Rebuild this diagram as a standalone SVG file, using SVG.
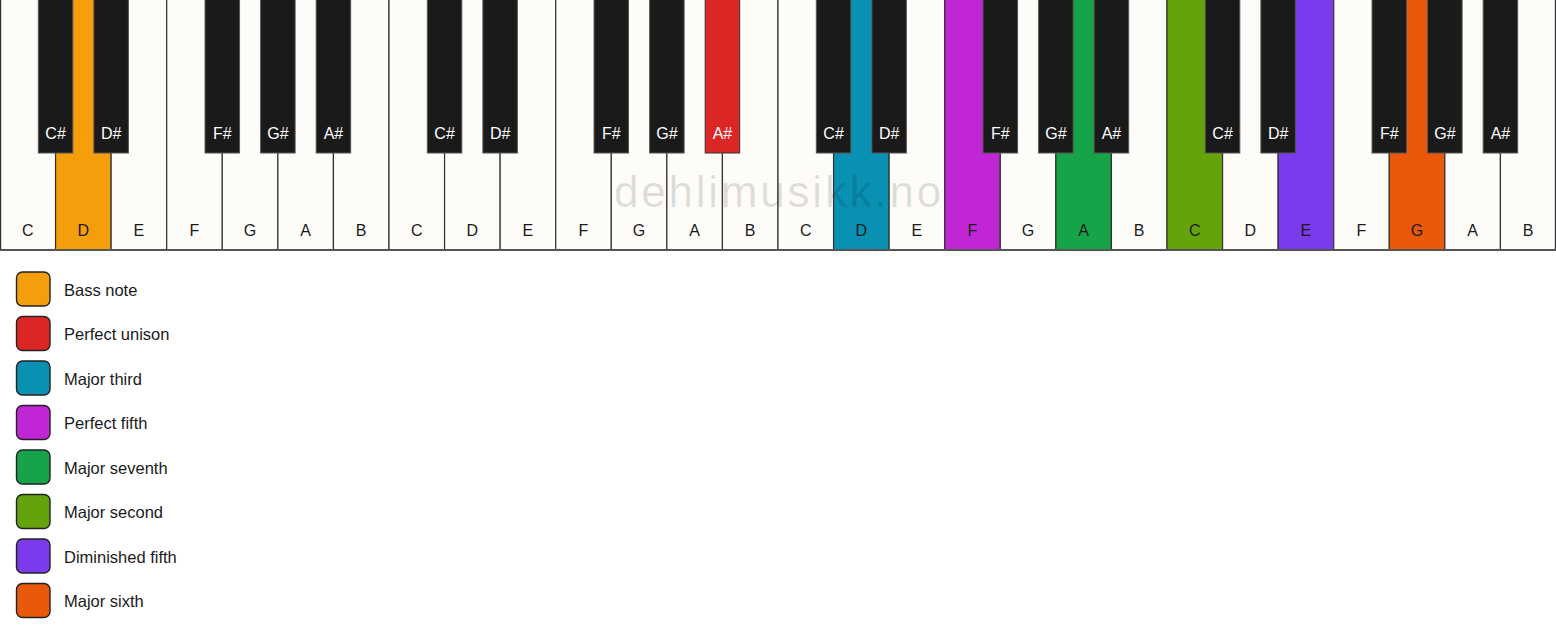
<svg xmlns="http://www.w3.org/2000/svg" width="1556" height="639" viewBox="0 0 1556 639">
<style>
.w{fill:#fdfcf9;stroke:#333;stroke-width:1.2}
.b{fill:#1a1a1a;stroke:#555;stroke-width:1}
.wl{font-family:"Liberation Sans",Arial,sans-serif;font-size:16px;fill:#1a1a1a;text-anchor:middle}
.bl{font-family:"Liberation Sans",Arial,sans-serif;font-size:16px;fill:#ffffff;text-anchor:middle}
.lg{stroke:#222;stroke-width:1.4}
.lt{font-family:"Liberation Sans",Arial,sans-serif;font-size:16.5px;fill:#1a1a1a}
.wm{font-family:"Liberation Sans",Arial,sans-serif;font-size:44px;fill:#000;fill-opacity:0.12;text-anchor:middle;letter-spacing:2.8px}
</style>
<rect x="0" y="0" width="1556" height="639" fill="#ffffff"/>
<g id="white-keys">
<g id="w0"><rect class="w" x="0.6" y="-2" width="54.97" height="252"/><text class="wl" x="27.79" y="236">C</text></g>
<g id="w1"><rect class="w" x="55.57" y="-2" width="55.57" height="252" style="fill:#f59e0b"/><text class="wl" x="83.36" y="236">D</text></g>
<g id="w2"><rect class="w" x="111.14" y="-2" width="55.57" height="252"/><text class="wl" x="138.93" y="236">E</text></g>
<g id="w3"><rect class="w" x="166.71" y="-2" width="55.57" height="252"/><text class="wl" x="194.5" y="236">F</text></g>
<g id="w4"><rect class="w" x="222.29" y="-2" width="55.57" height="252"/><text class="wl" x="250.07" y="236">G</text></g>
<g id="w5"><rect class="w" x="277.86" y="-2" width="55.57" height="252"/><text class="wl" x="305.64" y="236">A</text></g>
<g id="w6"><rect class="w" x="333.43" y="-2" width="55.57" height="252"/><text class="wl" x="361.21" y="236">B</text></g>
<g id="w7"><rect class="w" x="389" y="-2" width="55.57" height="252"/><text class="wl" x="416.79" y="236">C</text></g>
<g id="w8"><rect class="w" x="444.57" y="-2" width="55.57" height="252"/><text class="wl" x="472.36" y="236">D</text></g>
<g id="w9"><rect class="w" x="500.14" y="-2" width="55.57" height="252"/><text class="wl" x="527.93" y="236">E</text></g>
<g id="w10"><rect class="w" x="555.71" y="-2" width="55.57" height="252"/><text class="wl" x="583.5" y="236">F</text></g>
<g id="w11"><rect class="w" x="611.29" y="-2" width="55.57" height="252"/><text class="wl" x="639.07" y="236">G</text></g>
<g id="w12"><rect class="w" x="666.86" y="-2" width="55.57" height="252"/><text class="wl" x="694.64" y="236">A</text></g>
<g id="w13"><rect class="w" x="722.43" y="-2" width="55.57" height="252"/><text class="wl" x="750.21" y="236">B</text></g>
<g id="w14"><rect class="w" x="778" y="-2" width="55.57" height="252"/><text class="wl" x="805.79" y="236">C</text></g>
<g id="w15"><rect class="w" x="833.57" y="-2" width="55.57" height="252" style="fill:#0891b2"/><text class="wl" x="861.36" y="236">D</text></g>
<g id="w16"><rect class="w" x="889.14" y="-2" width="55.57" height="252"/><text class="wl" x="916.93" y="236">E</text></g>
<g id="w17"><rect class="w" x="944.71" y="-2" width="55.57" height="252" style="fill:#c026d3"/><text class="wl" x="972.5" y="236">F</text></g>
<g id="w18"><rect class="w" x="1000.29" y="-2" width="55.57" height="252"/><text class="wl" x="1028.07" y="236">G</text></g>
<g id="w19"><rect class="w" x="1055.86" y="-2" width="55.57" height="252" style="fill:#16a34a"/><text class="wl" x="1083.64" y="236">A</text></g>
<g id="w20"><rect class="w" x="1111.43" y="-2" width="55.57" height="252"/><text class="wl" x="1139.21" y="236">B</text></g>
<g id="w21"><rect class="w" x="1167" y="-2" width="55.57" height="252" style="fill:#65a30d"/><text class="wl" x="1194.79" y="236">C</text></g>
<g id="w22"><rect class="w" x="1222.57" y="-2" width="55.57" height="252"/><text class="wl" x="1250.36" y="236">D</text></g>
<g id="w23"><rect class="w" x="1278.14" y="-2" width="55.57" height="252" style="fill:#7c3aed"/><text class="wl" x="1305.93" y="236">E</text></g>
<g id="w24"><rect class="w" x="1333.71" y="-2" width="55.57" height="252"/><text class="wl" x="1361.5" y="236">F</text></g>
<g id="w25"><rect class="w" x="1389.29" y="-2" width="55.57" height="252" style="fill:#ea580c"/><text class="wl" x="1417.07" y="236">G</text></g>
<g id="w26"><rect class="w" x="1444.86" y="-2" width="55.57" height="252"/><text class="wl" x="1472.64" y="236">A</text></g>
<g id="w27"><rect class="w" x="1500.43" y="-2" width="54.97" height="252"/><text class="wl" x="1528.21" y="236">B</text></g>
</g>
<line x1="0" y1="250" x2="1556" y2="250" stroke="#555" stroke-width="2"/>
<g id="black-keys">
<g id="b0"><rect class="b" x="38.32" y="-1" width="34.5" height="154"/><text class="bl" x="55.57" y="138.5">C#</text></g>
<g id="b1"><rect class="b" x="93.89" y="-1" width="34.5" height="154"/><text class="bl" x="111.14" y="138.5">D#</text></g>
<g id="b2"><rect class="b" x="205.04" y="-1" width="34.5" height="154"/><text class="bl" x="222.29" y="138.5">F#</text></g>
<g id="b3"><rect class="b" x="260.61" y="-1" width="34.5" height="154"/><text class="bl" x="277.86" y="138.5">G#</text></g>
<g id="b4"><rect class="b" x="316.18" y="-1" width="34.5" height="154"/><text class="bl" x="333.43" y="138.5">A#</text></g>
<g id="b5"><rect class="b" x="427.32" y="-1" width="34.5" height="154"/><text class="bl" x="444.57" y="138.5">C#</text></g>
<g id="b6"><rect class="b" x="482.89" y="-1" width="34.5" height="154"/><text class="bl" x="500.14" y="138.5">D#</text></g>
<g id="b7"><rect class="b" x="594.04" y="-1" width="34.5" height="154"/><text class="bl" x="611.29" y="138.5">F#</text></g>
<g id="b8"><rect class="b" x="649.61" y="-1" width="34.5" height="154"/><text class="bl" x="666.86" y="138.5">G#</text></g>
<g id="b9"><rect class="b" x="705.18" y="-1" width="34.5" height="154" style="fill:#dc2626;stroke:#333"/><text class="bl" x="722.43" y="138.5">A#</text></g>
<g id="b10"><rect class="b" x="816.32" y="-1" width="34.5" height="154"/><text class="bl" x="833.57" y="138.5">C#</text></g>
<g id="b11"><rect class="b" x="871.89" y="-1" width="34.5" height="154"/><text class="bl" x="889.14" y="138.5">D#</text></g>
<g id="b12"><rect class="b" x="983.04" y="-1" width="34.5" height="154"/><text class="bl" x="1000.29" y="138.5">F#</text></g>
<g id="b13"><rect class="b" x="1038.61" y="-1" width="34.5" height="154"/><text class="bl" x="1055.86" y="138.5">G#</text></g>
<g id="b14"><rect class="b" x="1094.18" y="-1" width="34.5" height="154"/><text class="bl" x="1111.43" y="138.5">A#</text></g>
<g id="b15"><rect class="b" x="1205.32" y="-1" width="34.5" height="154"/><text class="bl" x="1222.57" y="138.5">C#</text></g>
<g id="b16"><rect class="b" x="1260.89" y="-1" width="34.5" height="154"/><text class="bl" x="1278.14" y="138.5">D#</text></g>
<g id="b17"><rect class="b" x="1372.04" y="-1" width="34.5" height="154"/><text class="bl" x="1389.29" y="138.5">F#</text></g>
<g id="b18"><rect class="b" x="1427.61" y="-1" width="34.5" height="154"/><text class="bl" x="1444.86" y="138.5">G#</text></g>
<g id="b19"><rect class="b" x="1483.18" y="-1" width="34.5" height="154"/><text class="bl" x="1500.43" y="138.5">A#</text></g>
</g>
<text class="wm" x="779" y="207">dehlimusikk.no</text>
<g id="legend">
<g id="lg-bass"><rect class="lg" x="16.5" y="272" width="33.5" height="34" rx="6" fill="#f59e0b"/><text class="lt" x="64" y="295.5">Bass note</text></g>
<g id="lg-unison"><rect class="lg" x="16.5" y="316.5" width="33.5" height="34" rx="6" fill="#dc2626"/><text class="lt" x="64" y="340">Perfect unison</text></g>
<g id="lg-third"><rect class="lg" x="16.5" y="361" width="33.5" height="34" rx="6" fill="#0891b2"/><text class="lt" x="64" y="384.5">Major third</text></g>
<g id="lg-fifth"><rect class="lg" x="16.5" y="405.5" width="33.5" height="34" rx="6" fill="#c026d3"/><text class="lt" x="64" y="429">Perfect fifth</text></g>
<g id="lg-seventh"><rect class="lg" x="16.5" y="450" width="33.5" height="34" rx="6" fill="#16a34a"/><text class="lt" x="64" y="473.5">Major seventh</text></g>
<g id="lg-second"><rect class="lg" x="16.5" y="494.5" width="33.5" height="34" rx="6" fill="#65a30d"/><text class="lt" x="64" y="518">Major second</text></g>
<g id="lg-dim5"><rect class="lg" x="16.5" y="539" width="33.5" height="34" rx="6" fill="#7c3aed"/><text class="lt" x="64" y="562.5">Diminished fifth</text></g>
<g id="lg-sixth"><rect class="lg" x="16.5" y="583.5" width="33.5" height="34" rx="6" fill="#ea580c"/><text class="lt" x="64" y="607">Major sixth</text></g>
</g>
</svg>
